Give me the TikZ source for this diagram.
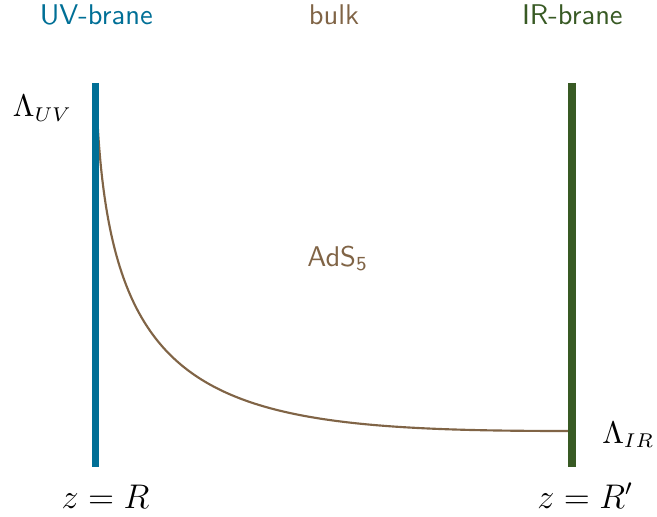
\documentclass[tikz,border=0pt]{standalone}
\definecolor{uvblue}{RGB}{0,111,150}
\definecolor{irgreen}{RGB}{56,90,36}
\definecolor{bulkbrown}{RGB}{128,100,70}
\begin{document}
\begin{tikzpicture}[x=0.3509pt,y=-0.3509pt,
  lbl/.style={inner sep=0pt,font=\sffamily},
  mlbl/.style={inner sep=0pt},
  brane/.style={line width=2.7pt}]
\useasboundingbox (0,0) rectangle (657,516);
% brane coordinates
\coordinate (uvtop) at (95.5,83);
\coordinate (uvbot) at (95.5,467);
\coordinate (irtop) at (572,83);
\coordinate (irbot) at (572,467);
\coordinate (cstart) at (96,85);
\coordinate (cend) at (572,431);
% warp curve
\draw[bulkbrown,line width=0.75pt] (cstart) .. controls (105,403) and (200,431) .. (cend);
\draw[brane,uvblue] (uvtop) -- (uvbot);
\draw[brane,irgreen,line width=2.8pt] (irtop) -- (irbot);
% headings
\node[lbl,anchor=base,text=uvblue] (uvlab) at (96.3,25) {UV-brane};
\node[lbl,anchor=base,text=bulkbrown] (bulklab) at (334,25) {bulk};
\node[lbl,anchor=base,text=irgreen] (irlab) at (572.3,25) {IR-brane};
% bulk label
\node[lbl,anchor=base west,text=bulkbrown] (ads) at (306.7,266) {AdS\textsubscript{5}};
% scales
\node[mlbl,anchor=base west,font=\fontsize{10.6}{12}\selectfont] (luv) at (12.3,116.7) {$\Lambda_{UV}$};
\node[mlbl,anchor=base west,font=\fontsize{10.6}{12}\selectfont] (lir) at (601.7,443.3) {$\Lambda_{IR}$};
\node[mlbl,anchor=base west,font=\fontsize{11.8}{14}\selectfont] (zr) at (61,508.3) {$z=R$};
\node[mlbl,anchor=base west,font=\fontsize{11.8}{14}\selectfont] (zrp) at (536.7,508.3) {$z=R'$};
\end{tikzpicture}
\end{document}
